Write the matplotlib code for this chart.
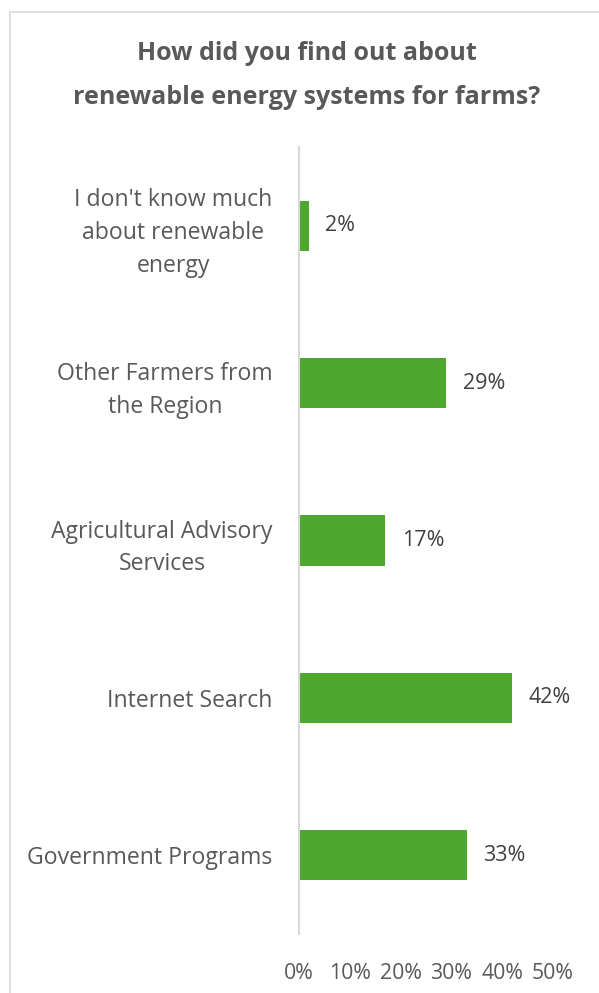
import matplotlib.pyplot as plt
from matplotlib.patches import Rectangle
from matplotlib.ticker import FuncFormatter

categories = [
    "Government Programs",
    "Internet Search",
    "Agricultural Advisory\nServices",
    "Other Farmers from\nthe Region",
    "I don't know much\nabout renewable\nenergy",
]
shares = [33, 42, 17, 29, 2]
ticks = [0, 10, 20, 30, 40, 50]

green = "#4EA72E"
label_grey = "#595959"
value_grey = "#404040"

plt.rcParams["font.family"] = ["Open Sans", "DejaVu Sans"]

W, H = 599, 993
fig = plt.figure(figsize=(W / 100, H / 100), dpi=100)

# light frame around the chart area
fig.patches.append(Rectangle((10 / W, -0.1), 1.2, (H - 12) / H + 0.1,
                             transform=fig.transFigure, fill=False,
                             edgecolor="#D9D9D9", linewidth=1.2))

ax = fig.add_axes([299 / W, (H - 934) / H, (553 - 299) / W, (934 - 147) / H])
y = range(len(categories))
bars = ax.barh(y, shares, height=0.32, color=green)

ax.set_xlim(0, 50)
ax.set_ylim(-0.5, len(categories) - 0.5)
ax.set_xticks(ticks)
ax.xaxis.set_major_formatter(FuncFormatter(lambda v, _: f"{v:.0f}%"))
ax.set_yticks(list(y))
ax.set_yticklabels(categories, multialignment="center", linespacing=1.5)

for s in ["top", "right", "bottom"]:
    ax.spines[s].set_visible(False)
ax.spines["left"].set_color("#D9D9D9")
ax.spines["left"].set_linewidth(1.5)
ax.tick_params(axis="y", length=0, pad=19, labelsize=16.6, labelcolor=label_grey)
ax.tick_params(axis="x", length=0, pad=21, labelsize=15.3, labelcolor=label_grey)

for bar, v in zip(bars, shares):
    ax.text(bar.get_width() + 3.2, bar.get_y() + bar.get_height() / 2, f"{v}%",
            va="center", ha="left", fontsize=15.5, color=value_grey)

fig.text(307 / W, 1 - 53 / H, "How did you find out about", ha="center", va="center",
         fontsize=18, fontweight="bold", color=label_grey)
fig.text(307 / W, 1 - 98 / H, "renewable energy systems for farms?", ha="center",
         va="center", fontsize=18, fontweight="bold", color=label_grey)

fig.savefig("out.png", dpi=100)
